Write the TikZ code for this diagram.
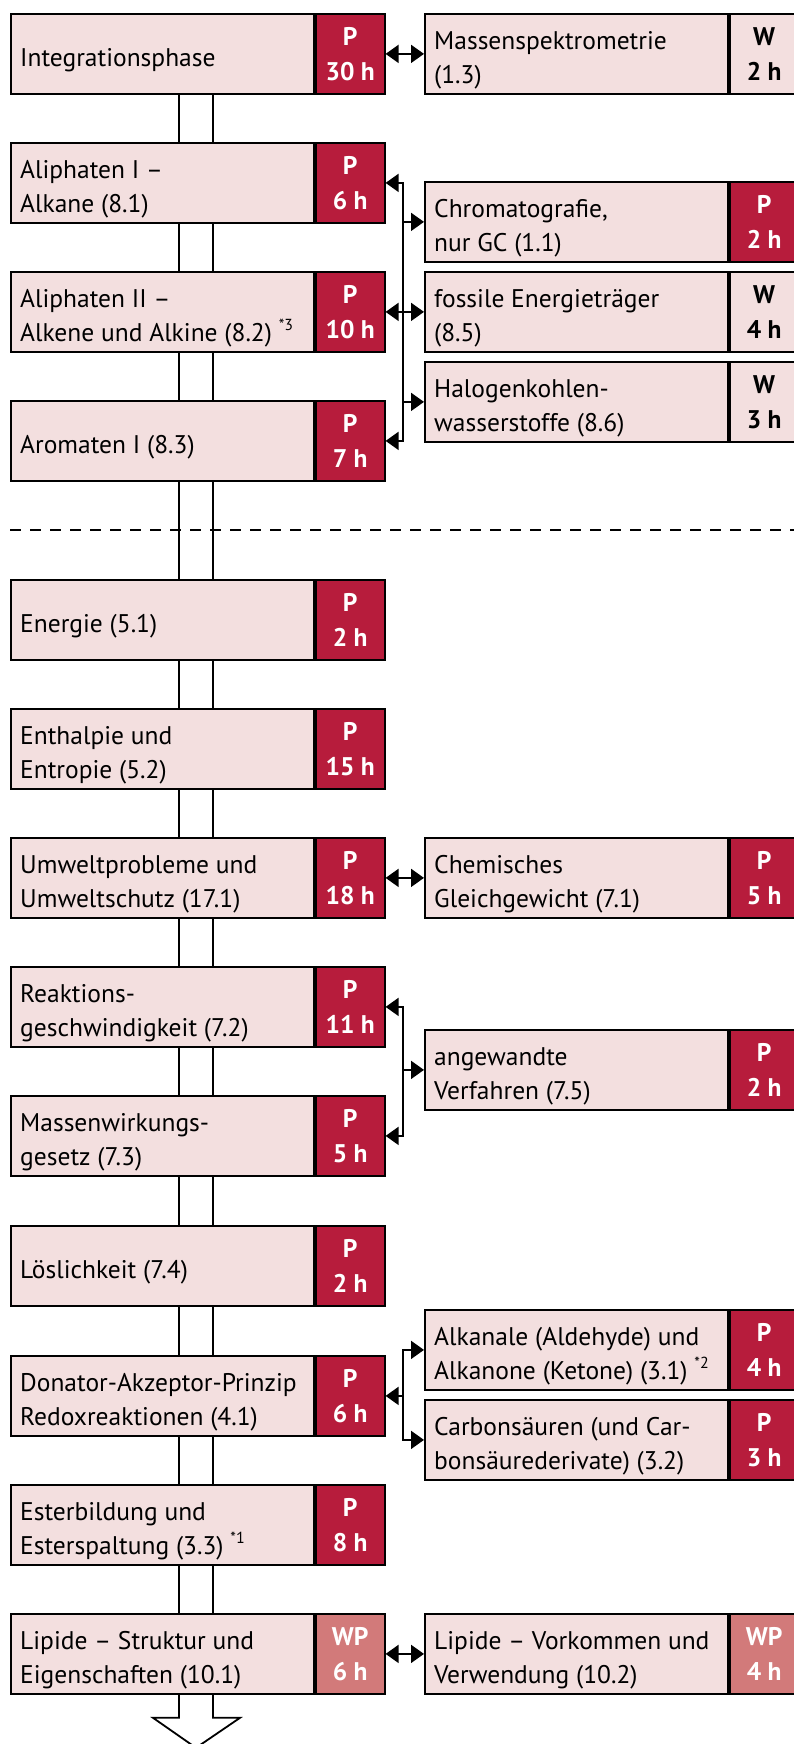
\documentclass[tikz,border=0pt]{standalone}
\usepackage{fontspec}
\setmainfont{PT Sans}
\usetikzlibrary{arrows.meta}

\definecolor{boxfill}{HTML}{F3DFDF}
\definecolor{badgeP}{HTML}{B71C3C}
\definecolor{badgeWP}{HTML}{D27A7A}

\tikzset{
  frame/.style={draw=black, line width=1.8pt, fill=boxfill, inner sep=0pt,
    minimum height=80pt, anchor=north west},
  mainbox/.style={frame, minimum width=303pt},
  boxtext/.style={anchor=west, align=left, inner sep=0pt, xshift=10pt, yshift=-6pt,
    font=\fontsize{25.5}{34}\selectfont},
  badge/.style={draw=black, line width=1.8pt, inner sep=0pt, minimum width=69pt,
    minimum height=80pt, anchor=north west, align=center,
    font=\bfseries\fontsize{25.5}{35}\selectfont},
  pbadge/.style={badge, fill=badgeP, text=white},
  wpbadge/.style={badge, fill=badgeWP, text=white},
  wbadge/.style={badge, fill=boxfill, text=black},
  conn/.style={line width=1.8pt},
  tip/.style={conn, -{Triangle[length=13pt,width=18pt]}},
  tips/.style={conn, {Triangle[length=13pt,width=18pt]}-{Triangle[length=13pt,width=18pt]}},
}

% topic box: name, x, y, text, badge style, badge text
\newcommand\topicbox[6]{%
  \node[mainbox] (#1) at (#2,#3) {};
  \node[boxtext] (#1-t) at (#1.west) {#4};
  \node[#5] (#1-b) at (#1.north east) {#6};
}
\newcommand\starnote[1]{\raisebox{0.42em}{\fontsize{16}{16}\selectfont *#1}}
% the two rails joining consecutive boxes of the main column
\newcommand\rails[2]{%
  \draw[conn] ([xshift=169pt]#1.south west) -- ([xshift=169pt]#2.north west);
  \draw[conn] ([xshift=203pt]#1.south west) -- ([xshift=203pt]#2.north west);
}

\begin{document}
\begin{tikzpicture}[x=1pt, y=-1pt]
\useasboundingbox (0,0) rectangle (794,1744);

% main column
\topicbox{integ}{10}{13}{Integrationsphase}{pbadge}{P\\30 h}
\topicbox{ali1}{10}{142}{Aliphaten I –\\Alkane (8.1)}{pbadge}{P\\6 h}
\topicbox{ali2}{10}{271}{Aliphaten II –\\Alkene und Alkine (8.2) \starnote{3}}{pbadge}{P\\10 h}
\topicbox{aro}{10}{400}{Aromaten I (8.3)}{pbadge}{P\\7 h}
\topicbox{ener}{10}{579}{Energie (5.1)}{pbadge}{P\\2 h}
\topicbox{enth}{10}{708}{Enthalpie und\\Entropie (5.2)}{pbadge}{P\\15 h}
\topicbox{umw}{10}{837}{Umweltprobleme und\\Umweltschutz (17.1)}{pbadge}{P\\18 h}
\topicbox{reak}{10}{966}{Reaktions-\\geschwindigkeit (7.2)}{pbadge}{P\\11 h}
\topicbox{mwg}{10}{1095}{Massenwirkungs-\\gesetz (7.3)}{pbadge}{P\\5 h}
\topicbox{loes}{10}{1225}{Löslichkeit (7.4)}{pbadge}{P\\2 h}
\topicbox{redox}{10}{1355}{Donator-Akzeptor-Prinzip\\Redoxreaktionen (4.1)}{pbadge}{P\\6 h}
\topicbox{ester}{10}{1484}{Esterbildung und\\Esterspaltung (3.3) \starnote{1}}{pbadge}{P\\8 h}
\topicbox{lip1}{10}{1613}{Lipide – Struktur und\\Eigenschaften (10.1)}{wpbadge}{WP\\6 h}

% side column
\topicbox{ms}{424}{13}{Massenspektrometrie\\(1.3)}{wbadge}{W\\2 h}
\topicbox{chrom}{424}{181}{Chromatografie,\\nur GC (1.1)}{pbadge}{P\\2 h}
\topicbox{foss}{424}{271}{fossile Energieträger\\(8.5)}{wbadge}{W\\4 h}
\topicbox{halo}{424}{361}{Halogenkohlen-\\wasserstoffe (8.6)}{wbadge}{W\\3 h}
\topicbox{glgw}{424}{837}{Chemisches\\Gleichgewicht (7.1)}{pbadge}{P\\5 h}
\topicbox{verf}{424}{1029}{angewandte\\Verfahren (7.5)}{pbadge}{P\\2 h}
\topicbox{alkan}{424}{1309}{Alkanale (Aldehyde) und\\Alkanone (Ketone) (3.1) \starnote{2}}{pbadge}{P\\4 h}
\topicbox{carb}{424}{1399}{Carbonsäuren (und Car-\\bonsäurederivate) (3.2)}{pbadge}{P\\3 h}
\topicbox{lip2}{424}{1613}{Lipide – Vorkommen und\\Verwendung (10.2)}{wpbadge}{WP\\4 h}

% rails of the main column
\rails{integ}{ali1}
\rails{ali1}{ali2}
\rails{ali2}{aro}
\rails{aro}{ener}
\rails{ener}{enth}
\rails{enth}{umw}
\rails{umw}{reak}
\rails{reak}{mwg}
\rails{mwg}{loes}
\rails{loes}{redox}
\rails{redox}{ester}
\rails{ester}{lip1}

% open arrow at the foot of the column
\draw[conn, line join=miter] ([xshift=169pt]lip1.south west) -- ++(0,23) -- ++(-26,0)
  -- ++(43,30) -- ++(44,-30) -- ++(-27,0) -- ([xshift=203pt]lip1.south west);

% dashed separator
\coordinate (sepL) at (10,530);
\coordinate (sepR) at (796,530);
\draw[conn, dash pattern=on 11pt off 9pt] (sepL) -- (sepR);

% single links
\draw[tips] (integ-b.east) -- (ms.west);
\draw[tips] (umw-b.east) -- (glgw.west);
\draw[tips] (lip1-b.east) -- (lip2.west);

% bracket: aliphatics and aromatics
\coordinate (g1) at (403,0);
\draw[tips, line join=miter] (ali1-b.east) -- (ali1-b.east -| g1) -- (aro-b.east -| g1) -- (aro-b.east);
\draw[tips] (ali2-b.east) -- (foss.west);
\draw[tip] (chrom.west -| g1) -- (chrom.west);
\draw[tip] (halo.west -| g1) -- (halo.west);

% bracket: kinetics
\draw[tips, line join=miter] (reak-b.east) -- (reak-b.east -| g1) -- (mwg-b.east -| g1) -- (mwg-b.east);
\draw[tip] (verf.west -| g1) -- (verf.west);

% bracket: carbonyl compounds
\draw[tips, line join=miter] (alkan.west) -- (alkan.west -| g1) -- (carb.west -| g1) -- (carb.west);
\draw[tip] (redox-b.east -| g1) -- (redox-b.east);
\end{tikzpicture}
\end{document}
